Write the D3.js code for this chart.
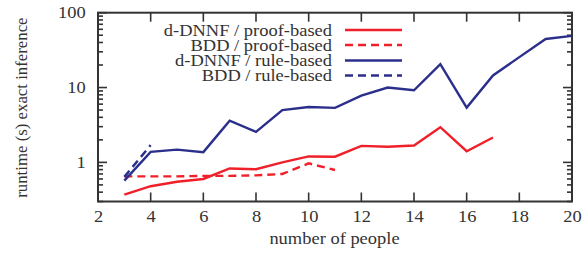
<!DOCTYPE html>
<html>
<head>
<meta charset="utf-8">
<script src="https://cdn.jsdelivr.net/npm/d3@7/dist/d3.min.js"></script>
<style>
  html, body { margin: 0; padding: 0; background: #fff; }
  svg { display: block; }
  text { font-family: "Liberation Serif", "DejaVu Serif", serif; fill: #333; }
</style>
</head>
<body>
<svg id="chart" width="584" height="255"></svg>
<script>
// ---- data ----
const xTicks = [2, 4, 6, 8, 10, 12, 14, 16, 18, 20];
const yTicks = [1, 10, 100];
const seriesNames = ["d-DNNF / proof-based", "BDD / proof-based", "d-DNNF / rule-based", "BDD / rule-based"];

const ddnnfProofX = [3, 4, 5, 6, 7, 8, 9, 10, 11, 12, 13, 14, 15, 16, 17];
const ddnnfProofY = [0.37, 0.48, 0.55, 0.60, 0.83, 0.81, 1.0, 1.2, 1.19, 1.66, 1.62, 1.68, 2.95, 1.41, 2.15];

const bddProofX = [3, 4, 5, 6, 7, 8, 9, 10, 11];
const bddProofY = [0.65, 0.65, 0.65, 0.66, 0.66, 0.67, 0.70, 0.97, 0.79];

const ddnnfRuleX = [3, 4, 5, 6, 7, 8, 9, 10, 11, 12, 13, 14, 15, 16, 17, 18, 19, 20];
const ddnnfRuleY = [0.57, 1.38, 1.48, 1.37, 3.6, 2.55, 5.0, 5.5, 5.35, 7.8, 10.0, 9.2, 20.5, 5.4, 14.5, 25.5, 44.5, 49];

const bddRuleX = [3, 4];
const bddRuleY = [0.64, 1.7];

const series = [
  { name: seriesNames[0], x: ddnnfProofX, y: ddnnfProofY, color: "#f0202a", dash: null },
  { name: seriesNames[1], x: bddProofX, y: bddProofY, color: "#f0202a", dash: "8,5" },
  { name: seriesNames[2], x: ddnnfRuleX, y: ddnnfRuleY, color: "#2b2f8c", dash: null },
  { name: seriesNames[3], x: bddRuleX, y: bddRuleY, color: "#2b2f8c", dash: "8,5" }
];

// ---- layout ----
const svg = d3.select("#chart");
const L = 98, R = 572, T = 12.7, B = 201.5;
const FS = 16.5, SX = 1.12;
const x = d3.scaleLinear().domain([2, 20]).range([L, R]);
const y = d3.scaleLog().domain([0.3, 100]).range([B, T]);
const axisColor = "#333";

// minor y ticks
const minorY = [];
[0.1, 1, 10].forEach(d => { for (let k = 2; k <= 9; k++) { const v = d * k; if (v >= 0.3 && v < 100) minorY.push(v); } });

const g = svg.append("g");

// left axis
const leftAxis = d3.axisLeft(y).tickValues(yTicks).tickFormat(d3.format("d")).tickSize(0).tickPadding(11);
const gl = g.append("g").attr("transform", `translate(${L},0)`).call(leftAxis);
gl.select(".domain").remove();
gl.selectAll("text").attr("font-size", FS).attr("fill", axisColor)
  .style("font-family", '"Liberation Serif", serif').attr("transform", `scale(${SX},1)`);

// bottom axis
const bottomAxis = d3.axisBottom(x).tickValues(xTicks).tickSize(0).tickPadding(0);
const gb = g.append("g").attr("transform", `translate(0,${B})`).call(bottomAxis);
gb.select(".domain").remove();
gb.selectAll("text").attr("font-size", FS).attr("fill", axisColor)
  .style("font-family", '"Liberation Serif", serif').attr("dy", null).attr("y", 20.5)
  .attr("transform", `scale(${SX},1)`);

// tick marks (inward, mirrored)
const ticks = g.append("g").attr("stroke", axisColor).attr("stroke-width", 1.6);
xTicks.forEach(v => {
  ticks.append("line").attr("x1", x(v)).attr("x2", x(v)).attr("y1", B).attr("y2", B - 9);
  ticks.append("line").attr("x1", x(v)).attr("x2", x(v)).attr("y1", T).attr("y2", T + 9);
});
yTicks.forEach(v => {
  ticks.append("line").attr("x1", L).attr("x2", L + 9).attr("y1", y(v)).attr("y2", y(v));
  ticks.append("line").attr("x1", R).attr("x2", R - 9).attr("y1", y(v)).attr("y2", y(v));
});
minorY.forEach(v => {
  ticks.append("line").attr("x1", L).attr("x2", L + 5).attr("y1", y(v)).attr("y2", y(v));
  ticks.append("line").attr("x1", R).attr("x2", R - 5).attr("y1", y(v)).attr("y2", y(v));
});

// series lines
const line = d3.line().x(d => x(d[0])).y(d => y(d[1]));
series.forEach(s => {
  const pts = s.x.map((v, i) => [v, s.y[i]]);
  g.append("path").datum(pts).attr("d", line)
    .attr("fill", "none").attr("stroke", s.color).attr("stroke-width", 2.4)
    .attr("stroke-dasharray", s.dash).attr("stroke-linejoin", "miter");
});

// frame
g.append("rect").attr("x", L).attr("y", T).attr("width", R - L).attr("height", B - T)
  .attr("fill", "none").attr("stroke", axisColor).attr("stroke-width", 2);

// legend
const legend = g.append("g");
const legY = [30, 45, 60.5, 75.5];
series.forEach((s, i) => {
  legend.append("g").attr("transform", `translate(332,${legY[i]}) scale(${SX},1)`)
    .append("text").attr("dy", "0.35em")
    .attr("text-anchor", "end").attr("font-size", FS).attr("fill", axisColor).text(s.name);
  legend.append("line").attr("x1", 345).attr("x2", 402).attr("y1", legY[i]).attr("y2", legY[i])
    .attr("stroke", s.color).attr("stroke-width", 2.4).attr("stroke-dasharray", s.dash);
});

// axis titles
g.append("g").attr("transform", `translate(${(L + R) / 2 - 0.5},244) scale(${SX},1)`)
  .append("text").attr("text-anchor", "middle")
  .attr("font-size", FS).attr("fill", axisColor).text("number of people");
g.append("text").attr("transform", `translate(27,${(T + B) / 2 + 0.5}) rotate(-90)`)
  .attr("text-anchor", "middle").attr("font-size", FS + 0.3).attr("fill", axisColor).text("runtime (s) exact inference");
</script>
</body>
</html>
